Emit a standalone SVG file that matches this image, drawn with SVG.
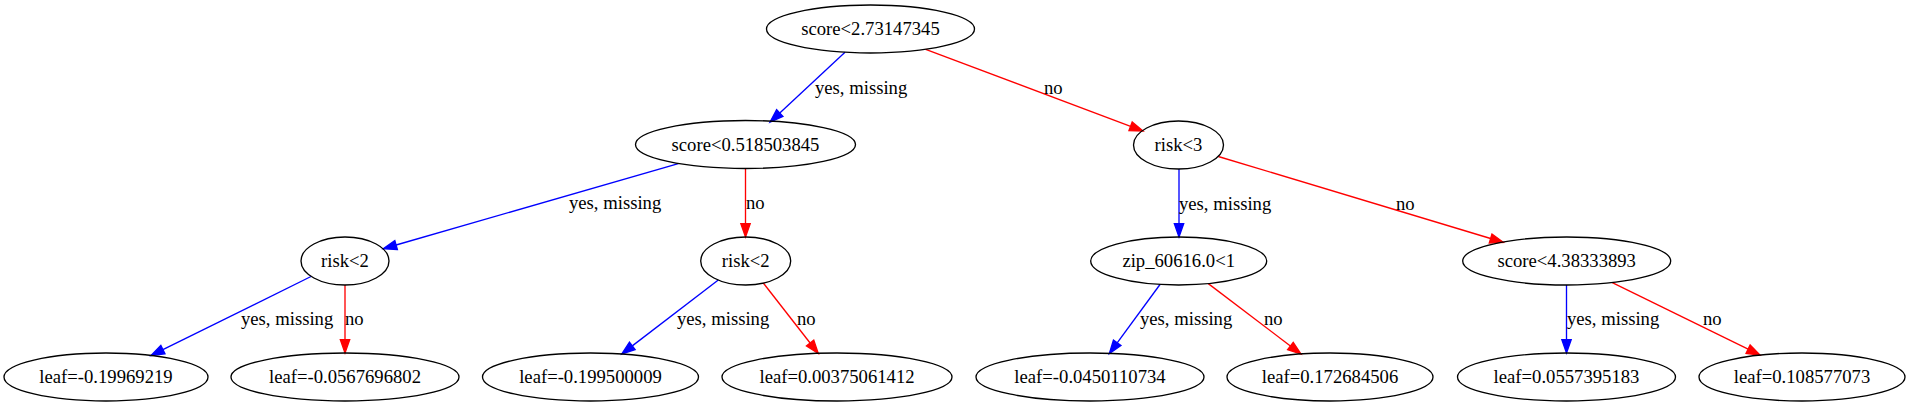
<svg xmlns="http://www.w3.org/2000/svg" width="1911" height="407" viewBox="0 0 1911 407">
<style>
.n ellipse{fill:none;stroke:#000;stroke-width:1.33}
text{font-family:"Liberation Serif","Times New Roman",serif;font-size:18.67px;fill:#000}
.n text{text-anchor:middle}
.y{stroke:#0000ff;stroke-width:1.33;fill:none;marker-end:url(#ab)}
.r{stroke:#ff0000;stroke-width:1.33;fill:none;marker-end:url(#ar)}
</style>
<defs>
<marker id="ab" markerUnits="userSpaceOnUse" markerWidth="14" markerHeight="10" refX="0" refY="4.67" orient="auto" overflow="visible"><path d="M0,0 L13.3,4.67 L0,9.33 z" fill="#0000ff" stroke="#0000ff" stroke-width="1.33"/></marker>
<marker id="ar" markerUnits="userSpaceOnUse" markerWidth="14" markerHeight="10" refX="0" refY="4.67" orient="auto" overflow="visible"><path d="M0,0 L13.3,4.67 L0,9.33 z" fill="#ff0000" stroke="#ff0000" stroke-width="1.33"/></marker>
</defs>
<rect width="1911" height="407" fill="#fff"/>
<g id="edges">
<path class="y" d="M845,52.3 L779.8,113"/>
<path class="r" d="M925.7,49.3 L1130.6,126.3"/>
<path class="y" d="M678.3,163.6 L396.1,245"/>
<path class="r" d="M745.5,168.5 L745.5,223.7"/>
<path class="y" d="M1179,169 L1179,223.7"/>
<path class="r" d="M1218.3,156.5 L1490.6,238.5"/>
<path class="y" d="M311,276.5 L162.9,349.6"/>
<path class="r" d="M345,285 L345,339.7"/>
<path class="y" d="M718.3,280 L632.3,345.9"/>
<path class="r" d="M763.3,283 L810.1,343"/>
<path class="y" d="M1160,284.5 L1117.2,342.8"/>
<path class="r" d="M1208.3,283.6 L1290.4,346"/>
<path class="y" d="M1566.5,285 L1566.5,339.7"/>
<path class="r" d="M1612.3,282.6 L1748.1,349.2"/>
<text x="815" y="94">yes, missing</text>
<text x="1044" y="94">no</text>
<text x="569" y="209">yes, missing</text>
<text x="746" y="209">no</text>
<text x="1179" y="210">yes, missing</text>
<text x="1396" y="210">no</text>
<text x="241" y="325">yes, missing</text>
<text x="345" y="325">no</text>
<text x="677" y="325">yes, missing</text>
<text x="797" y="325">no</text>
<text x="1140" y="325">yes, missing</text>
<text x="1264" y="325">no</text>
<text x="1567" y="325">yes, missing</text>
<text x="1703" y="325">no</text>
</g>
<g id="n0" class="n"><ellipse cx="870.5" cy="29" rx="104" ry="24"/><text x="870.5" y="35">score&lt;2.73147345</text></g>
<g id="n1" class="n"><ellipse cx="745.5" cy="144.5" rx="110" ry="24"/><text x="745.5" y="150.5">score&lt;0.518503845</text></g>
<g id="n2" class="n"><ellipse cx="1178.5" cy="145" rx="45" ry="24"/><text x="1178.5" y="151">risk&lt;3</text></g>
<g id="n3" class="n"><ellipse cx="345" cy="261" rx="44" ry="24"/><text x="345" y="267">risk&lt;2</text></g>
<g id="n4" class="n"><ellipse cx="745.7" cy="261" rx="45" ry="24"/><text x="745.7" y="267">risk&lt;2</text></g>
<g id="n5" class="n"><ellipse cx="1178.7" cy="261" rx="88" ry="24"/><text x="1178.7" y="267">zip_60616.0&lt;1</text></g>
<g id="n6" class="n"><ellipse cx="1566.7" cy="261" rx="104" ry="24"/><text x="1566.7" y="267">score&lt;4.38333893</text></g>
<g id="n7" class="n"><ellipse cx="106" cy="377" rx="102" ry="24"/><text x="106" y="383">leaf=-0.19969219</text></g>
<g id="n8" class="n"><ellipse cx="345" cy="377" rx="114" ry="24"/><text x="345" y="383">leaf=-0.0567696802</text></g>
<g id="n9" class="n"><ellipse cx="590.5" cy="377" rx="108" ry="24"/><text x="590.5" y="383">leaf=-0.199500009</text></g>
<g id="n10" class="n"><ellipse cx="837" cy="377" rx="115" ry="24"/><text x="837" y="383">leaf=0.00375061412</text></g>
<g id="n11" class="n"><ellipse cx="1090" cy="377" rx="114" ry="24"/><text x="1090" y="383">leaf=-0.0450110734</text></g>
<g id="n12" class="n"><ellipse cx="1330" cy="377" rx="103" ry="24"/><text x="1330" y="383">leaf=0.172684506</text></g>
<g id="n13" class="n"><ellipse cx="1566.5" cy="377" rx="109" ry="24"/><text x="1566.5" y="383">leaf=0.0557395183</text></g>
<g id="n14" class="n"><ellipse cx="1802" cy="377" rx="103" ry="24"/><text x="1802" y="383">leaf=0.108577073</text></g>
</svg>
